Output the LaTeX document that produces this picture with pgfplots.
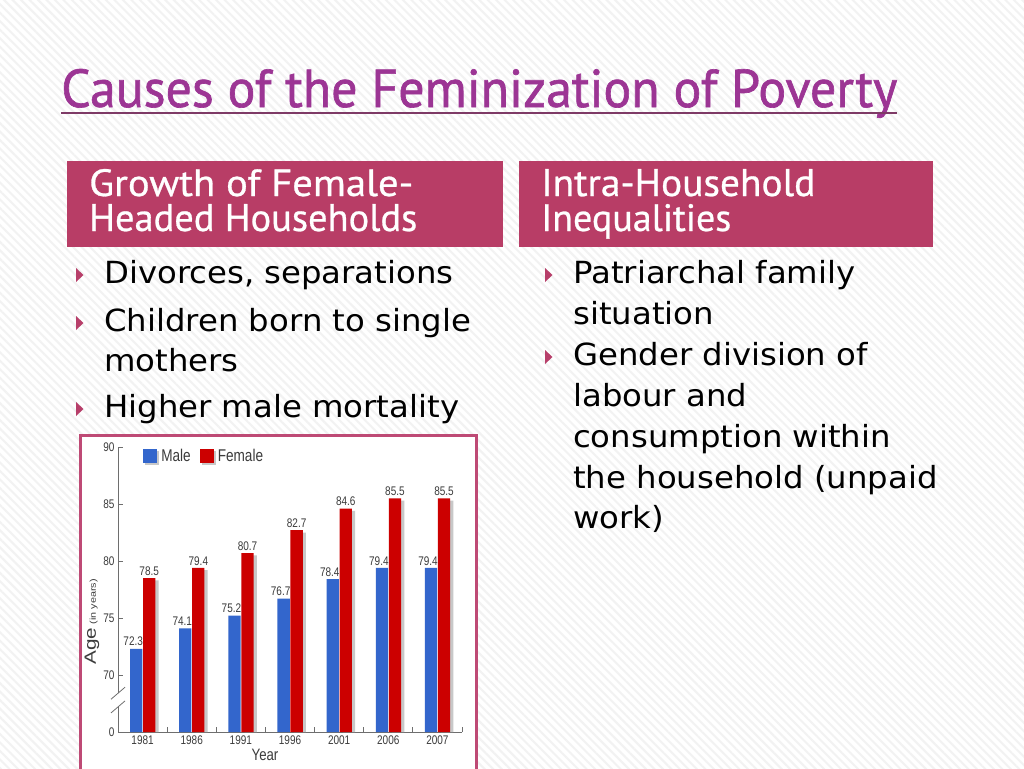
\documentclass[border=0pt]{standalone}
\usepackage{fontspec}
\setmainfont{DejaVu Sans}
\newfontfamily\chartfont[FakeStretch=0.8]{Liberation Sans}
\newfontfamily\chartfontv[FakeStretch=1.27]{Liberation Sans}
\newfontfamily\titlefont[FakeBold=1.2]{PT Sans}
\newfontfamily\hdrfont[FakeBold=0.7]{PT Sans}
\usepackage{pgfplots}
\pgfplotsset{compat=1.18}
\usetikzlibrary{patterns.meta}
\definecolor{titlepurple}{HTML}{9C3594}
\definecolor{uline}{HTML}{7E3A66}
\definecolor{hdr}{HTML}{B83D66}
\definecolor{bullet}{HTML}{B73F6A}
\definecolor{frame}{HTML}{BE4A75}
\definecolor{maleblue}{HTML}{3366CC}
\definecolor{femred}{HTML}{CC0000}
\definecolor{shadowgray}{HTML}{C8C8C8}
\definecolor{axisgray}{HTML}{6E6E6E}
\definecolor{labelgray}{HTML}{3C3C3C}
\newcommand{\bt}[1]{\scalebox{1.06}[1]{\fontsize{30.5pt}{36pt}\selectfont #1}}
\newcommand{\tri}[2]{\fill[bullet] (#1,#2-15) -- (#1,#2-1) -- (#1+7.5,#2-8) -- cycle;}
\begin{document}
\begin{tikzpicture}
\useasboundingbox (0pt,0pt) rectangle (1024pt,-768pt);
\clip (0pt,0pt) rectangle (1024pt,-768pt);
\begin{scope}[x=1pt,y=-1pt]
\fill[white] (0,0) rectangle (1024,768);
\fill[pattern={Lines[angle=-45,distance=6pt,line width=2pt]}, pattern color=black!5] (0,0) rectangle (1024,768);
% title
\node[anchor=base west,inner sep=0,text=titlepurple] at (61,107) {\resizebox{836pt}{38pt}{\titlefont Causes of the Feminization of Poverty}};
\draw[uline,line width=2pt] (61,112.5) -- (897,112.5);
% header boxes
\fill[hdr] (67,161) rectangle (503,247);
\fill[hdr] (519,161) rectangle (933,247);
\node[anchor=base west,inner sep=0,text=white] at (89,196) {\resizebox{324pt}{27pt}{\hdrfont Growth of Female-}};
\node[anchor=base west,inner sep=0,text=white] at (89,231) {\resizebox{328pt}{27pt}{\hdrfont Headed Households}};
\node[anchor=base west,inner sep=0,text=white] at (541,196) {\resizebox{274pt}{27pt}{\hdrfont Intra-Household}};
\node[anchor=base west,inner sep=0,text=white] at (541,231) {\resizebox{190pt}{27pt}{\hdrfont Inequalities}};
% left bullets
\tri{76}{283}\tri{76}{331}\tri{76}{417}
\node[anchor=base west,inner sep=0,text=black] at (104,283) {\bt{Divorces, separations}};
\node[anchor=base west,inner sep=0,text=black] at (104,331) {\bt{Children born to single}};
\node[anchor=base west,inner sep=0,text=black] at (104,371) {\bt{mothers}};
\node[anchor=base west,inner sep=0,text=black] at (104,417) {\bt{Higher male mortality}};
% right bullets
\tri{545}{283}\tri{545}{365}
\node[anchor=base west,inner sep=0,text=black] at (573,283) {\bt{Patriarchal family}};
\node[anchor=base west,inner sep=0,text=black] at (573,324) {\bt{situation}};
\node[anchor=base west,inner sep=0,text=black] at (573,365) {\bt{Gender division of}};
\node[anchor=base west,inner sep=0,text=black] at (573,406) {\bt{labour and}};
\node[anchor=base west,inner sep=0,text=black] at (573,447) {\bt{consumption within}};
\node[anchor=base west,inner sep=0,text=black] at (573,488) {\bt{the household (unpaid}};
\node[anchor=base west,inner sep=0,text=black] at (573,528) {\bt{work)}};
% chart frame
\filldraw[fill=white,draw=frame,line width=3pt] (80,435) rectangle (476,790);
\end{scope}
\begin{axis}[
  at={(118pt,-732pt)}, anchor=south west,
  scale only axis, width=344pt, height=285pt,
  xmin=-0.5, xmax=6.5, ymin=65, ymax=90,
  axis x line*=bottom, axis y line*=left,
  axis line style={draw=axisgray,line width=0.8pt},
  ybar, bar width=0.25,
  xtick={-0.5,0.5,1.5,2.5,3.5,4.5,5.5,6.5},
  x tick label as interval,
  xticklabels={1981,1986,1991,1996,2001,2006,2007},
  ytick={65,70,75,80,85,90},
  yticklabels={0,70,75,80,85,90},
  tick align=inside, major tick length=5pt,
  tick style={draw=axisgray,line width=0.8pt},
  tick label style={font=\chartfont\fontsize{12.5pt}{13pt}\selectfont, text=labelgray},
  /pgf/number format/assume math mode=true,
  clip mode=individual,
  legend columns=2,
  legend style={at={(0.073,0.968)}, anchor=west, draw=none, fill=none,
    inner sep=0pt, font=\chartfont\fontsize{17pt}{18pt}\selectfont,
    text=labelgray, /tikz/every even column/.append style={column sep=7pt}},
]
\addplot[forget plot, fill=shadowgray, draw=none, bar shift=0.2]
  coordinates {(0,78.3) (1,79.2) (2,80.5) (3,82.5) (4,84.4) (5,85.3) (6,85.3)};
\addplot[fill=maleblue, draw=none, bar shift=-0.13,
  nodes near coords,
  every node near coord/.append style={font=\chartfont\fontsize{12.5pt}{13pt}\selectfont, text=labelgray, inner sep=2.5pt, xshift=-3pt},
  legend image code/.code={\fill[shadowgray] (2pt,-9pt) rectangle (16pt,5pt); \fill[maleblue] (0pt,-7pt) rectangle (14pt,7pt);}]
  coordinates {(0,72.3) (1,74.1) (2,75.2) (3,76.7) (4,78.4) (5,79.4) (6,79.4)};
\addlegendentry{Male}
\addplot[fill=femred, draw=none, bar shift=0.135,
  nodes near coords,
  every node near coord/.append style={font=\chartfont\fontsize{12.5pt}{13pt}\selectfont, text=labelgray, inner sep=2.5pt},
  legend image code/.code={\fill[shadowgray] (2pt,-9pt) rectangle (16pt,5pt); \fill[femred] (0pt,-7pt) rectangle (14pt,7pt);}]
  coordinates {(0,78.5) (1,79.4) (2,80.7) (3,82.7) (4,84.6) (5,85.5) (6,85.5)};
\addlegendentry{Female}
% axis break
\fill[white] ([xshift=-2pt]axis cs:-0.5,67.2) rectangle ([xshift=2pt]axis cs:-0.5,68.4);
\draw[axisgray,line width=0.8pt] ([xshift=-7pt,yshift=-6pt]axis cs:-0.5,67.2) -- ([xshift=7pt,yshift=6pt]axis cs:-0.5,67.2);
\draw[axisgray,line width=0.8pt] ([xshift=-7pt,yshift=-6pt]axis cs:-0.5,68.4) -- ([xshift=7pt,yshift=6pt]axis cs:-0.5,68.4);
\end{axis}
\begin{scope}[x=1pt,y=-1pt]
\node[text=labelgray,inner sep=0] at (265,755) {\chartfont\fontsize{16.5pt}{18pt}\selectfont Year};
\node[text=labelgray,inner sep=0,rotate=90] at (92,622) {\chartfontv{\fontsize{16.3pt}{18pt}\selectfont Age} {\fontsize{8.5pt}{10pt}\selectfont(in years)}};
\end{scope}
\end{tikzpicture}
\end{document}
